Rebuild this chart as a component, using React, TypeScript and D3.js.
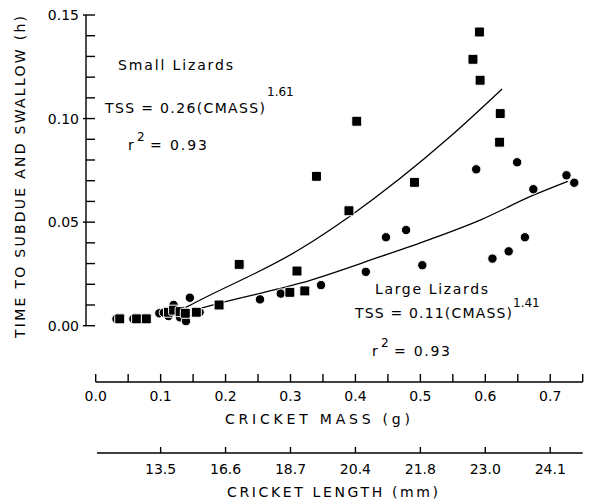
import React from "react";
import * as d3 from "d3";

// small lizards (squares): cricket mass (g), time to subdue and swallow (h)
const smallMass = [0.037, 0.063, 0.078, 0.112, 0.120, 0.130, 0.138, 0.155, 0.190, 0.221, 0.299, 0.310, 0.322, 0.340, 0.390, 0.402, 0.491, 0.581, 0.591, 0.592, 0.622, 0.623];
const smallTime = [0.0033, 0.0033, 0.0033, 0.0065, 0.0075, 0.0068, 0.0060, 0.0065, 0.0100, 0.0296, 0.0161, 0.0264, 0.0168, 0.0721, 0.0555, 0.0987, 0.0692, 0.1286, 0.1418, 0.1185, 0.0886, 0.1024];

// large lizards (circles)
const largeMass = [0.032, 0.058, 0.071, 0.098, 0.105, 0.112, 0.120, 0.130, 0.139, 0.145, 0.160, 0.253, 0.285, 0.347, 0.416, 0.447, 0.478, 0.503, 0.586, 0.611, 0.636, 0.649, 0.661, 0.674, 0.725, 0.737];
const largeTime = [0.0033, 0.0033, 0.0033, 0.0060, 0.0063, 0.0047, 0.0100, 0.0040, 0.0022, 0.0135, 0.0065, 0.0127, 0.0155, 0.0196, 0.0260, 0.0427, 0.0462, 0.0292, 0.0755, 0.0324, 0.0359, 0.0789, 0.0427, 0.0659, 0.0726, 0.0690];

// fitted curves
const smallFitMass = [0.138, 0.161, 0.315, 0.392, 0.546, 0.626];
const smallFitTime = [0.0087, 0.0124, 0.0370, 0.0530, 0.0913, 0.1143];
const largeFitMass = [0.161, 0.197, 0.315, 0.438, 0.515, 0.592, 0.674, 0.727];
const largeFitTime = [0.0084, 0.0114, 0.0205, 0.0333, 0.0417, 0.0510, 0.0630, 0.0697];

const yTickLabels = ["0.00", "0.05", "0.10", "0.15"];
const massTickLabels = ["0.0", "0.1", "0.2", "0.3", "0.4", "0.5", "0.6", "0.7"];
const lengthTickMass = [0.1, 0.2, 0.3, 0.4, 0.5, 0.6, 0.7];
const lengthTickLabels = ["13.5", "16.6", "18.7", "20.4", "21.8", "23.0", "24.1"];

const font = "'DejaVu Sans', sans-serif";

export default function App() {
  const width = 590;
  const height = 500;
  const yAxisX = 86;
  const massAxisY = 382;
  const lengthAxisY = 453;

  const x = d3.scaleLinear([0, 0.75], [95.7, 582.7]);
  const y = d3.scaleLinear([0, 0.15], [325.7, 15]);

  const line = d3.line<[number, number]>()
    .x(d => x(d[0]))
    .y(d => y(d[1]))
    .curve(d3.curveMonotoneX);

  const smallFit = smallFitMass.map((m, i) => [m, smallFitTime[i]] as [number, number]);
  const largeFit = largeFitMass.map((m, i) => [m, largeFitTime[i]] as [number, number]);

  const yMinor = d3.range(0, 16).map(i => i / 100);
  const yMajor = yTickLabels.map(Number);
  const massTicks = d3.range(0, 16).map(i => i * 0.05);

  return (
    <svg width={width} height={height} style={{ position: "absolute", left: 0, top: 0, background: "#fff" }}
      fontFamily={font} fill="#000">
      {/* y axis */}
      <g stroke="#000" strokeWidth={1.4}>
        <line x1={yAxisX} x2={yAxisX} y1={y(0.15)} y2={y(0)} />
        {yMinor.map(t => (
          <line key={t} x1={yAxisX} x2={yAxisX + 9} y1={y(t)} y2={y(t)} />
        ))}
        {yMajor.map(t => (
          <line key={"M" + t} x1={yAxisX - 3} x2={yAxisX} y1={y(t)} y2={y(t)} />
        ))}
      </g>
      {yTickLabels.map(l => (
        <text key={l} x={79} y={y(+l) + 5} fontSize={14} textAnchor="end">{l}</text>
      ))}
      <text transform={`translate(25,${177}) rotate(-90)`} fontSize={14} textAnchor="middle"
        textLength={322} lengthAdjust="spacing">TIME TO SUBDUE AND SWALLOW (h)</text>

      {/* cricket mass axis */}
      <g stroke="#000" strokeWidth={1.4}>
        <line x1={x(0)} x2={x(0.75)} y1={massAxisY} y2={massAxisY} />
        {massTicks.map(m => (
          <line key={m} x1={x(m)} x2={x(m)} y1={massAxisY} y2={massAxisY - 8} />
        ))}
      </g>
      {massTickLabels.map(l => (
        <text key={l} x={x(+l)} y={massAxisY + 19} fontSize={14} textAnchor="middle">{l}</text>
      ))}
      <text x={225} y={424} fontSize={14} textLength={185} lengthAdjust="spacing">CRICKET MASS (g)</text>

      {/* cricket length axis */}
      <g stroke="#000" strokeWidth={1.4}>
        <line x1={97} x2={x(0.75)} y1={lengthAxisY} y2={lengthAxisY} />
        {lengthTickMass.map(m => (
          <line key={m} x1={x(m)} x2={x(m)} y1={lengthAxisY} y2={lengthAxisY - 6} />
        ))}
      </g>
      {lengthTickLabels.map((l, i) => (
        <text key={l} x={x(lengthTickMass[i])} y={lengthAxisY + 21} fontSize={14} textAnchor="middle">{l}</text>
      ))}
      <text x={227} y={497} fontSize={14} textLength={211} lengthAdjust="spacing">CRICKET LENGTH (mm)</text>

      {/* fitted lines */}
      <path d={line(smallFit) ?? ""} fill="none" stroke="#000" strokeWidth={1.3} />
      <path d={line(largeFit) ?? ""} fill="none" stroke="#000" strokeWidth={1.3} />

      {/* points */}
      {largeMass.map((m, i) => (
        <circle key={"c" + i} cx={x(m)} cy={y(largeTime[i])} r={4.7} fill="#000" stroke="#fff" strokeWidth={1} />
      ))}
      {smallMass.map((m, i) => (
        <rect key={"s" + i} x={x(m) - 5} y={y(smallTime[i]) - 5} width={10} height={10} rx={1.5}
          fill="#000" stroke="#fff" strokeWidth={1} />
      ))}

      {/* annotations */}
      <text x={118} y={70} fontSize={14} textLength={115} lengthAdjust="spacing">Small Lizards</text>
      <text x={105} y={113} fontSize={14} textLength={160} lengthAdjust="spacing">TSS = 0.26(CMASS)</text>
      <text x={267} y={96} fontSize={12}>1.61</text>
      <text x={128} y={150} fontSize={14}>r</text>
      <text x={137} y={141} fontSize={12}>2</text>
      <text x={150} y={150} fontSize={14} textLength={57} lengthAdjust="spacing">= 0.93</text>

      <text x={375} y={294} fontSize={14} textLength={113} lengthAdjust="spacing">Large Lizards</text>
      <text x={355} y={318} fontSize={14} textLength={157} lengthAdjust="spacing">TSS = 0.11(CMASS)</text>
      <text x={513} y={307} fontSize={12}>1.41</text>
      <text x={372} y={356} fontSize={14}>r</text>
      <text x={381} y={347} fontSize={12}>2</text>
      <text x={394} y={356} fontSize={14} textLength={56} lengthAdjust="spacing">= 0.93</text>
    </svg>
  );
}
